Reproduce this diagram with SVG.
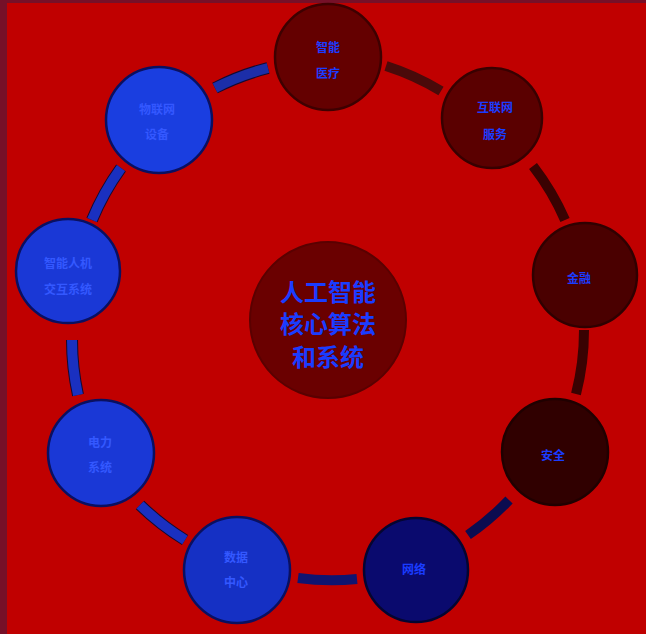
<svg xmlns="http://www.w3.org/2000/svg" width="646" height="634" viewBox="0 0 646 634">
<style>
.t{font-family:"Noto Sans CJK SC","Noto Sans",sans-serif;font-weight:bold;fill:#1a3cff;text-anchor:middle;dominant-baseline:central}
.b{fill:#3458ff}
.s{font-size:12px}
.c{font-size:24px}
.n{stroke-width:2.5}
.k{fill:none;stroke-width:10;stroke-linecap:butt}
.o{fill:none;stroke-width:12;stroke:#140a30}
</style>
<rect x="0" y="0" width="646" height="634" fill="#761028"/>
<rect x="7" y="3" width="639" height="631" fill="#c00000"/>
<g id="connectors">
<path class="o" d="M215 88 A256 256 0 0 1 268 68"/>
<path class="k" d="M215 88 A256 256 0 0 1 268 68" stroke="#1c2ea8"/>
<path class="k" d="M386 66 A256 256 0 0 1 441 91" stroke="#4a0a0a"/>
<path class="k" d="M533 166 A256 256 0 0 1 565 220" stroke="#3a0202"/>
<path class="k" d="M584 330 A256 256 0 0 1 576 394" stroke="#3a0202"/>
<path class="k" d="M509 500 A256 256 0 0 1 468 535" stroke="#0c0c50"/>
<path class="k" d="M357 579 A256 256 0 0 1 298 578" stroke="#101470"/>
<path class="o" d="M185 540 A256 256 0 0 1 140 505"/>
<path class="k" d="M185 540 A256 256 0 0 1 140 505" stroke="#1a30c0"/>
<path class="o" d="M78 395 A256 256 0 0 1 72 340"/>
<path class="k" d="M78 395 A256 256 0 0 1 72 340" stroke="#1a30c0"/>
<path class="o" d="M92 220 A256 256 0 0 1 121 168"/>
<path class="k" d="M92 220 A256 256 0 0 1 121 168" stroke="#1a30c0"/>
</g>
<g id="center">
<circle cx="328" cy="320" r="78" fill="#6a0000" stroke="#5a0000" stroke-width="2"/>
<text class="t c" x="328" y="290">人工智能</text>
<text class="t c" x="328" y="322">核心算法</text>
<text class="t c" x="328" y="355">和系统</text>
</g>
<g id="n1">
<circle class="n" cx="328" cy="57" r="53" fill="#640000" stroke="#3e0000"/>
<text class="t s" x="328" y="46">智能</text>
<text class="t s" x="328" y="72">医疗</text>
</g>
<g id="n2">
<circle class="n" cx="492" cy="118" r="50" fill="#5a0000" stroke="#380000"/>
<text class="t s" x="495" y="106">互联网</text>
<text class="t s" x="495" y="133">服务</text>
</g>
<g id="n3">
<circle class="n" cx="585" cy="275" r="52" fill="#4a0000" stroke="#300000"/>
<text class="t s" x="579" y="277">金融</text>
</g>
<g id="n4">
<circle class="n" cx="555" cy="452" r="53" fill="#300000" stroke="#200000"/>
<text class="t s" x="553" y="454">安全</text>
</g>
<g id="n5">
<circle class="n" cx="416" cy="570" r="52" fill="#0a0a6e" stroke="#050530"/>
<text class="t s" x="414" y="568">网络</text>
</g>
<g id="n6">
<circle class="n" cx="237" cy="570" r="53" fill="#1530c4" stroke="#0a1060"/>
<text class="t s b" x="236" y="556">数据</text>
<text class="t s b" x="236" y="581">中心</text>
</g>
<g id="n7">
<circle class="n" cx="101" cy="453" r="53" fill="#1a38d6" stroke="#0a1060"/>
<text class="t s b" x="100" y="441">电力</text>
<text class="t s b" x="100" y="466">系统</text>
</g>
<g id="n8">
<circle class="n" cx="68" cy="271" r="52" fill="#1a38d6" stroke="#0a1060"/>
<text class="t s b" x="68" y="262">智能人机</text>
<text class="t s b" x="68" y="288">交互系统</text>
</g>
<g id="n9">
<circle class="n" cx="159" cy="120" r="53" fill="#1a3ee0" stroke="#0a1060"/>
<text class="t s b" x="157" y="108">物联网</text>
<text class="t s b" x="157" y="133">设备</text>
</g>
</svg>
